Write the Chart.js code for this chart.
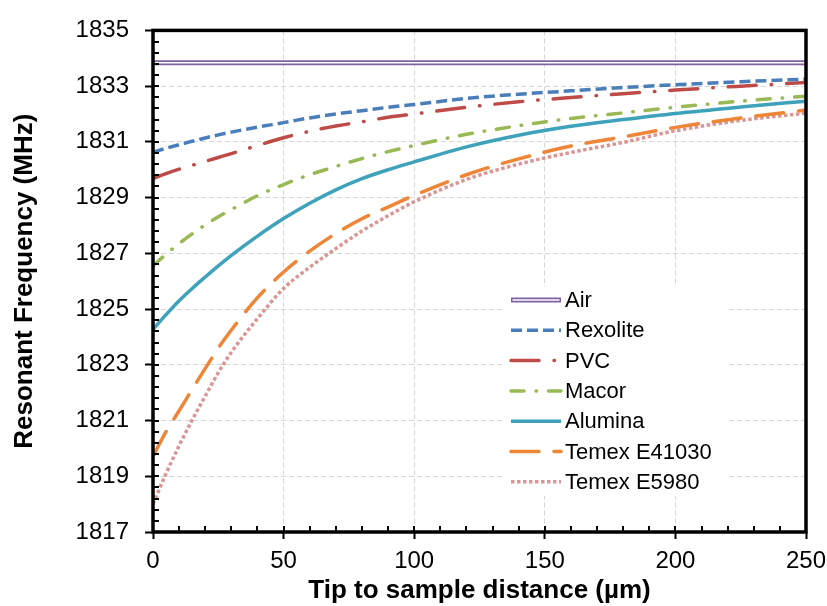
<!DOCTYPE html>
<html lang="en">
<head>
  <meta charset="UTF-8">
  <title>Resonant Frequency vs Tip to sample distance</title>
  <script src="https://cdn.jsdelivr.net/npm/chart.js"></script>
  <style>
    html, body { margin: 0; padding: 0; background: #fff; }
  </style>
</head>
<body>
  <canvas id="myChart" width="827" height="606"></canvas>

  <script>
    // distances in µm, frequencies in MHz
    const distances = [0, 5, 10, 15, 20, 25, 30, 40, 50, 60, 70, 80, 90, 100, 120, 140, 160, 180, 200, 225, 250];
    const airDistances = [0, 250];
    const air = [1833.84, 1833.84];
    const rexolite = [1830.63, 1830.77, 1830.90, 1831.02, 1831.14, 1831.25, 1831.35, 1831.53, 1831.69, 1831.86, 1832.00,
                      1832.12, 1832.24, 1832.34, 1832.56, 1832.71, 1832.83, 1832.95, 1833.05, 1833.16, 1833.25];
    const pvc = [1829.68, 1829.86, 1830.02, 1830.16, 1830.30, 1830.44, 1830.58, 1830.87, 1831.15, 1831.38, 1831.57,
                 1831.72, 1831.88, 1832.00, 1832.24, 1832.44, 1832.59, 1832.73, 1832.86, 1833.00, 1833.13];
    const macor = [1826.55, 1826.97, 1827.35, 1827.70, 1828.02, 1828.31, 1828.57, 1829.07, 1829.47, 1829.82, 1830.12,
                   1830.40, 1830.65, 1830.87, 1831.27, 1831.58, 1831.84, 1832.04, 1832.24, 1832.46, 1832.64];
    const alumina = [1824.27, 1824.80, 1825.30, 1825.74, 1826.15, 1826.55, 1826.93, 1827.62, 1828.25, 1828.80, 1829.28,
                     1829.68, 1830.00, 1830.28, 1830.82, 1831.24, 1831.56, 1831.80, 1832.02, 1832.25, 1832.46];
    const temexE41030 = [1819.72, 1820.60, 1821.35, 1822.12, 1822.87, 1823.60, 1824.25, 1825.41, 1826.33, 1827.08, 1827.71,
                         1828.24, 1828.66, 1829.08, 1829.82, 1830.39, 1830.85, 1831.18, 1831.52, 1831.86, 1832.14];
    const temexE5980 = [1818.00, 1819.10, 1820.10, 1821.02, 1821.88, 1822.72, 1823.45, 1824.66, 1825.74, 1826.50, 1827.17,
                        1827.80, 1828.35, 1828.85, 1829.65, 1830.20, 1830.62, 1830.98, 1831.40, 1831.77, 1832.03];

    const yTicks = [1817, 1819, 1821, 1823, 1825, 1827, 1829, 1831, 1833, 1835];
    const xTicks = [0, 50, 100, 150, 200, 250];

    const FONT = '"Liberation Sans", Arial, sans-serif';

    const toPoints = (xs, ys) => xs.map((x, i) => ({ x: x, y: ys[i] }));

    // line styles, one per series (legend uses the same)
    const series = [
      { label: 'Air',          xs: airDistances, ys: air,         color: '#7f63a1', width: 5,   dash: [],            cap: 'butt',  inner: true },
      { label: 'Rexolite',     xs: distances,    ys: rexolite,    color: '#4a7ebb', width: 3.5, dash: [11, 5],       cap: 'butt' },
      { label: 'PVC',          xs: distances,    ys: pvc,         color: '#be4b48', width: 3.5, dash: [28, 15, 0.5, 15], cap: 'round' },
      { label: 'Macor',        xs: distances,    ys: macor,       color: '#98b954', width: 3.5, dash: [13, 12, 0.5, 12], cap: 'round' },
      { label: 'Alumina',      xs: distances,    ys: alumina,     color: '#3ea2bb', width: 3.5, dash: [],            cap: 'butt' },
      { label: 'Temex E41030', xs: distances,    ys: temexE41030, color: '#ee8537', width: 3.5, dash: [28, 15],      cap: 'round' },
      { label: 'Temex E5980',  xs: distances,    ys: temexE5980,  color: '#d99694', width: 3.5, dash: [3.5, 2.5],    cap: 'butt' }
    ];

    const datasets = series.map((s, i) => ({
      label: s.label,
      data: toPoints(s.xs, s.ys),
      borderColor: s.color,
      borderWidth: s.width,
      borderDash: s.dash,
      borderCapStyle: s.cap,
      pointRadius: 0,
      fill: false,
      cubicInterpolationMode: 'monotone',
      order: i + 1
    }));
    // white core of the double "Air" line
    datasets.push({
      label: 'Air (inner)',
      data: toPoints(airDistances, air),
      borderColor: '#ffffff',
      borderWidth: 1.5,
      pointRadius: 0,
      fill: false,
      order: 0
    });

    const framePlugin = {
      id: 'frameAndMinorTicks',
      afterDatasetsDraw(chart) {
        const ctx = chart.ctx;
        const a = chart.chartArea;
        const xs = chart.scales.x, ys = chart.scales.y;
        ctx.save();
        ctx.strokeStyle = '#000';
        ctx.setLineDash([]);
        // minor ticks, pointing inward
        ctx.lineWidth = 2;
        ctx.beginPath();
        for (let v = ys.min; v <= ys.max + 1e-6; v += 0.4) {
          const py = Math.round(ys.getPixelForValue(v));
          ctx.moveTo(a.left, py);
          ctx.lineTo(a.left + 6, py);
        }
        for (let v = xs.min; v <= xs.max + 1e-6; v += 10) {
          const px = Math.round(xs.getPixelForValue(v));
          ctx.moveTo(px, a.bottom);
          ctx.lineTo(px, a.bottom - 6);
        }
        ctx.stroke();
        // plot frame
        ctx.lineWidth = 3.5;
        ctx.strokeRect(a.left, a.top, a.right - a.left, a.bottom - a.top);
        ctx.restore();
      }
    };

    const legendPlugin = {
      id: 'insideLegend',
      afterDraw(chart) {
        const ctx = chart.ctx;
        ctx.save();
        ctx.fillStyle = '#fff';
        ctx.fillRect(505, 287, 222, 209);
        ctx.font = '22px ' + FONT;
        ctx.textBaseline = 'middle';
        series.forEach((s, i) => {
          const y = 300 + i * 30.3;
          ctx.beginPath();
          ctx.setLineDash(s.dash);
          ctx.lineCap = s.cap;
          ctx.lineWidth = s.width;
          ctx.strokeStyle = s.color;
          ctx.moveTo(511, y);
          ctx.lineTo(561, y);
          ctx.stroke();
          if (s.inner) {
            ctx.beginPath();
            ctx.setLineDash([]);
            ctx.lineWidth = 1.5;
            ctx.strokeStyle = '#fff';
            ctx.moveTo(512.5, y);
            ctx.lineTo(559.5, y);
            ctx.stroke();
          }
          ctx.fillStyle = '#000';
          ctx.fillText(s.label, 565, y + 1);
        });
        ctx.restore();
      }
    };

    const ctx = document.getElementById('myChart').getContext('2d');
    const myChart = new Chart(ctx, {
      type: 'line',
      data: { datasets: datasets },
      options: {
        responsive: false,
        animation: false,
        layout: { padding: { top: 26, right: 21, left: 0, bottom: 0 } },
        plugins: {
          legend: { display: false },
          tooltip: { enabled: false }
        },
        scales: {
          x: {
            type: 'linear',
            min: 0,
            max: 250,
            afterBuildTicks: (scale) => { scale.ticks = xTicks.map(v => ({ value: v })); },
            afterFit: (scale) => {
              scale.height = 74;
              scale.paddingLeft = 0;
              scale.paddingRight = 0;
            },
            grid: {
              color: '#d6d6d6',
              lineWidth: 1,
              tickLength: 7,
              tickColor: '#000',
              tickWidth: 2,
              tickBorderDash: []
            },
            border: { display: false, dash: [5, 3] },
            ticks: { color: '#000', font: { family: FONT, size: 24 }, padding: 8, maxRotation: 0,
                     callback: (v) => String(v) },
            title: {
              display: true,
              text: 'Tip to sample distance (µm)',
              color: '#000',
              font: { family: FONT, size: 26, weight: 'bold' },
              padding: { top: 0, bottom: 0 }
            }
          },
          y: {
            min: 1817,
            max: 1835,
            afterBuildTicks: (scale) => { scale.ticks = yTicks.map(v => ({ value: v })); },
            afterFit: (scale) => { scale.width = 153; },
            grid: {
              color: '#d6d6d6',
              lineWidth: 1,
              tickLength: 8,
              tickColor: '#000',
              tickWidth: 2,
              tickBorderDash: []
            },
            border: { display: false, dash: [5, 3] },
            ticks: { color: '#000', font: { family: FONT, size: 24 }, padding: 16,
                     callback: (v) => String(v) },
            title: {
              display: true,
              text: 'Resonant Frequency (MHz)',
              color: '#000',
              font: { family: FONT, size: 26, weight: 'bold' },
              padding: { top: 9, bottom: 0 }
            }
          }
        }
      },
      plugins: [framePlugin, legendPlugin]
    });
  </script>
</body>
</html>
